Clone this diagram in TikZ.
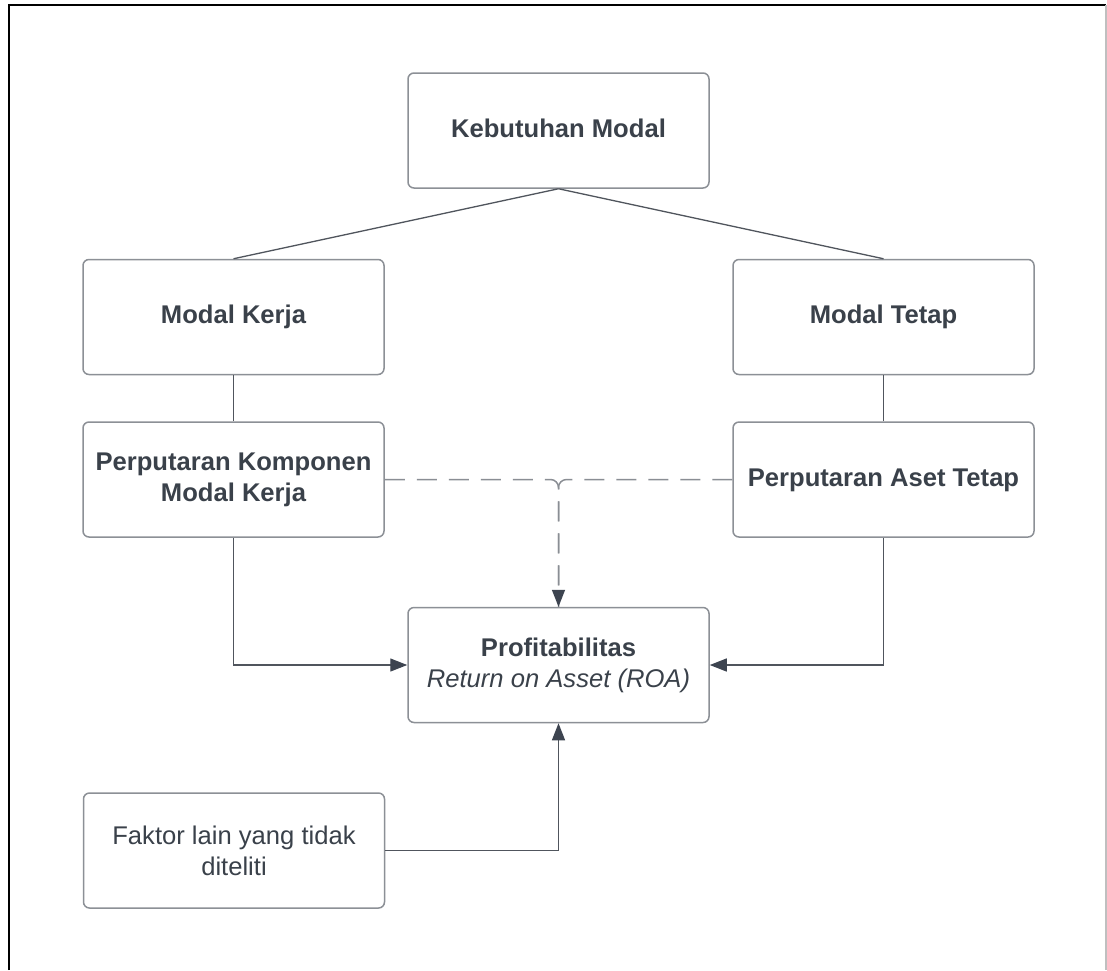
\documentclass[tikz,border=0pt]{standalone}
\usepackage{fontspec}
\setmainfont{Liberation Sans}
\usetikzlibrary{arrows.meta}
\definecolor{txt}{HTML}{3A414A}
\definecolor{bord}{HTML}{8C9096}
\definecolor{connc}{HTML}{50555D}
\definecolor{tipc}{HTML}{3D4450}
\definecolor{dashc}{HTML}{8A8E94}
\begin{document}
\begin{tikzpicture}[x=1pt,y=-1pt,
  box/.style={draw=bord, line width=1.5pt, rounded corners=6pt, minimum width=301pt,
    minimum height=115pt, align=center, text=txt, inner sep=0pt,
    font=\fontsize{25.6}{31}\selectfont},
  bx/.style={box, font=\fontsize{25.6}{31}\selectfont\bfseries},
  oneline/.style={text height=19pt, text depth=6pt},
  tipstyle/.style={-{Triangle[length=17pt,width=13pt,fill=tipc,color=tipc]}},
  connl/.style={draw=connc, line width=1.3pt},
  arr/.style={connl, tipstyle},
  dsh/.style={draw=dashc, line width=1.5pt, dash pattern=on 20pt off 12pt, rounded corners=8pt}
]
\useasboundingbox (0,0) rectangle (1107,970);
\fill[white] (0,0) rectangle (1107,970);
% frame
\draw[line width=2pt, black] (9,970) -- (9,5) -- (1106,5);
\draw[line width=1.5pt, black!25] (1106,5) -- (1106,970);

\node[bx, oneline] (keb) at (558.5,130.5) {Kebutuhan Modal};
\node[bx, oneline] (mk) at (233.5,317) {Modal Kerja};
\node[bx, oneline] (mt) at (883.5,317) {Modal Tetap};
\node[bx] (pk) at (233.5,479.5) {Perputaran Komponen\\Modal Kerja};
\node[bx, oneline] (pa) at (883.5,479.5) {Perputaran Aset Tetap};
\node[box] (pr) at (558.5,665) {{\bfseries Profitabilitas}\\{\itshape Return on Asset (ROA)}};
\node[box] (fk) at (234,850.5) {Faktor lain yang tidak\\diteliti};

\draw[connl] (keb.south) -- (mk.north);
\draw[connl] (keb.south) -- (mt.north);
\draw[connl] (mk) -- (pk);
\draw[connl] (mt) -- (pa);
\draw[arr] (pk.south) |- (pr.west);
\draw[arr] (pa.south) |- (pr.east);
\draw[arr] (fk.east) -| (pr.south);
\draw[dsh] (pa.west) -| (pr.north);
\draw[dsh, tipstyle] (pk.east) -| (pr.north);
\end{tikzpicture}
\end{document}
